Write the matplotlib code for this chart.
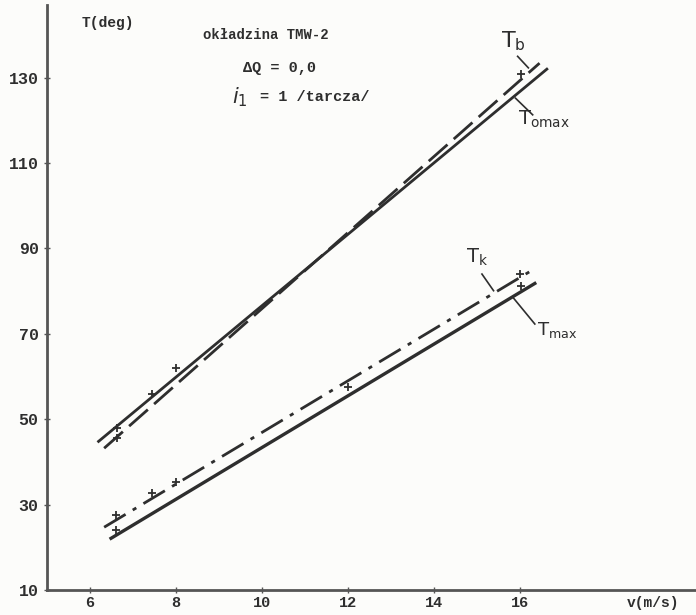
import numpy as np
import matplotlib
matplotlib.use("Agg")
import matplotlib.pyplot as plt

# fitted lines (end points)
v_tb = [6.33, 16.46]
t_tb = [43.2, 133.4]          # T_b, dashed
v_tomax = [6.2, 16.63]
t_tomax = [44.8, 132.0]       # T_omax, solid
v_tk = [6.33, 16.27]
t_tk = [24.7, 84.8]           # T_k, dash-dot
v_tmax = [6.49, 16.35]
t_tmax = [22.1, 81.8]         # T_max, solid

# measured points (small crosses)
v_pts_up = [6.64, 6.64, 7.45, 8.0, 16.04]
t_pts_up = [45.7, 48.0, 56.0, 62.1, 130.8]
v_pts_lo = [6.6, 6.6, 7.45, 8.0, 12.0, 16.0, 16.04]
t_pts_lo = [27.5, 24.0, 32.7, 35.3, 57.5, 84.1, 81.3]

xticks = [6, 8, 10, 12, 14, 16]
yticks = [10, 30, 50, 70, 90, 110, 130]

ink = "#2e2e2e"
mono = dict(family="Liberation Mono", weight="bold", color=ink)

fig = plt.figure(figsize=(6.96, 6.15), dpi=100, facecolor="#fcfcfa")
ax = fig.add_axes([0.0675, 0.0407, 0.9325, 0.951])
ax.set_facecolor("#fcfcfa")
ax.set_xlim(5.0, 20.1)
ax.set_ylim(10, 147)

ax.plot(v_tb, t_tb, color=ink, lw=2.0, dashes=(9, 3))
ax.plot(v_tomax, t_tomax, color=ink, lw=2.0)
ax.plot(v_tk, t_tk, color=ink, lw=2.0, dashes=(9, 3, 1.5, 3))
ax.plot(v_tmax, t_tmax, color=ink, lw=2.4)
ax.plot(v_pts_up, t_pts_up, "+", color=ink, ms=6, mew=1.3)
ax.plot(v_pts_lo, t_pts_lo, "+", color=ink, ms=6, mew=1.3)

for s in ["top", "right"]:
    ax.spines[s].set_visible(False)
for s in ["left", "bottom"]:
    ax.spines[s].set_color("#555555")
    ax.spines[s].set_linewidth(2.0)

ax.set_xticks(xticks)
ax.set_yticks(yticks)
ax.tick_params(direction="inout", length=5, width=1, colors="#555555",
               labelcolor=ink, labelsize=12)
ax.tick_params(axis="x", pad=1.5, labelsize=11)
for lab in ax.get_xticklabels() + ax.get_yticklabels():
    lab.set_family("Liberation Mono")
    lab.set_weight("bold")

# axis titles
ax.text(5.81, 142.7, "T(deg)", fontsize=10.5, ha="left", va="center", **mono)
ax.text(19.1, 6.9, "v(m/s)", fontsize=10.5, ha="center", va="center",
        clip_on=False, **mono)

# header notes
ax.text(10.1, 140.0, "okładzina TMW-2", fontsize=10, ha="center", va="center", **mono)
ax.text(9.55, 132.3, "ΔQ = 0,0", fontsize=11, ha="left", va="center", **mono)
ax.text(9.3, 125.5, r"$i_1$", fontsize=15, ha="left", va="center", color=ink)
ax.text(9.95, 125.5, "= 1 /tarcza/", fontsize=11, ha="left", va="center", **mono)

# curve labels with leaders
ax.text(15.86, 138.5, r"$\mathrm{T_b}$", fontsize=16, ha="center", va="center", color=ink)
ax.plot([15.95, 16.2], [135.0, 132.3], color=ink, lw=1.2)
ax.text(15.95, 120.3, r"$\mathrm{T_{omax}}$", fontsize=14, ha="left", va="center", color=ink)
ax.plot([16.3, 15.9], [121.3, 125.2], color=ink, lw=1.2)
ax.text(15.0, 88.0, r"$\mathrm{T_k}$", fontsize=14, ha="center", va="center", color=ink)
ax.plot([15.12, 15.39], [84.0, 80.1], color=ink, lw=1.2)
ax.text(16.4, 71.0, r"$\mathrm{T_{max}}$", fontsize=13, ha="left", va="center", color=ink)
ax.plot([16.35, 15.86], [72.3, 78.3], color=ink, lw=1.2)

fig.savefig("out.png", dpi=100, facecolor=fig.get_facecolor())
